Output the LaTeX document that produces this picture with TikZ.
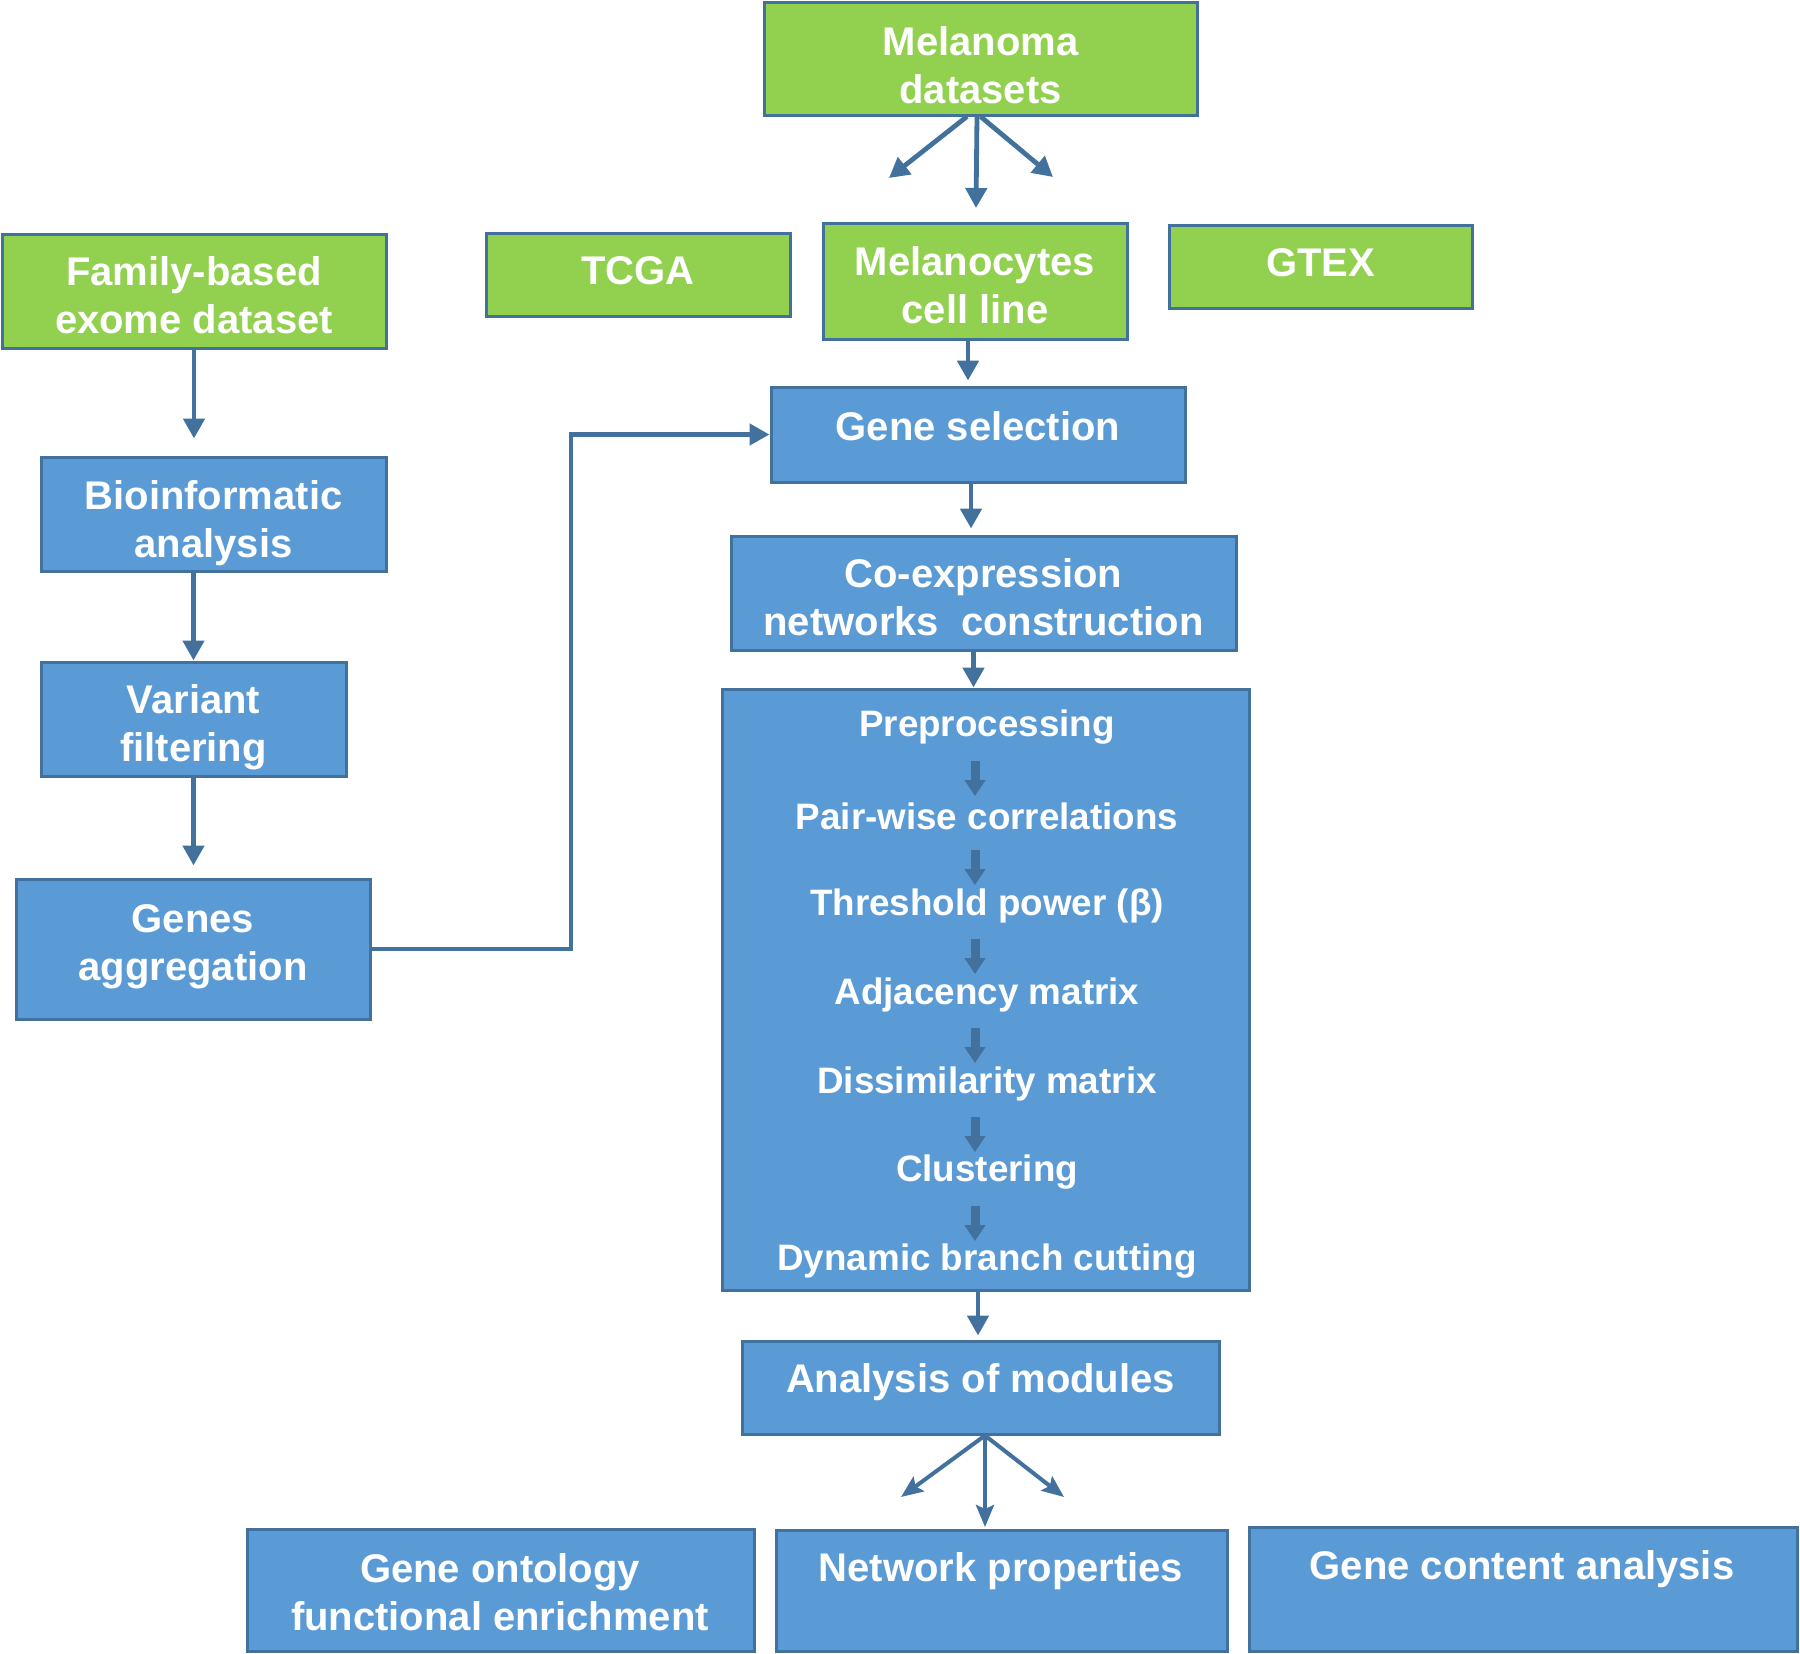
\documentclass[tikz,border=0pt]{standalone}
\usepackage{fontspec}
\setmainfont{Liberation Sans}
\usetikzlibrary{arrows.meta,calc}
\definecolor{gfill}{HTML}{92D050}
\definecolor{bfill}{HTML}{5B9BD5}
\definecolor{bord}{HTML}{41719C}
\begin{document}
\begin{tikzpicture}[x=0.5pt,y=-0.5pt,
 box/.style={draw=bord,line width=1.5pt,inner sep=0pt},
 gbox/.style={box,fill=gfill},
 bbox/.style={box,fill=bfill},
 txt/.style={text=white,align=center,inner sep=0pt,font=\bfseries\fontsize{20pt}{24pt}\selectfont},
 itxt/.style={text=white,inner sep=0pt,font=\bfseries\fontsize{18.4pt}{22pt}\selectfont},
 arr/.style={draw=bord,line width=2.4pt,-{Triangle[length=10pt,width=10.5pt]}},
 fan/.style={draw=bord,line width=2pt,-{Stealth[length=11pt,width=9pt,inset=2pt]}},
 inarr/.style={draw=bord,line width=4.5pt,-{Triangle[length=8pt,width=10pt]}},
]
\useasboundingbox (0,0) rectangle (1800,1654);

% green boxes
\node[gbox,minimum width=216.5pt,minimum height=56.5pt] (mel) at (980.5,58.5) {};
\node[txt] (melt) at (980.5,65) {Melanoma\\datasets};
\node[gbox,minimum width=152pt,minimum height=41.5pt] (tcga) at (638,274.5) {};
\node[txt] (tcgat) at (638,271) {TCGA};
\node[gbox,minimum width=152pt,minimum height=58pt] (mcl) at (975,281) {};
\node[txt] (mclt) at (975,285) {Melanocytes\\cell line};
\node[gbox,minimum width=151.5pt,minimum height=41.5pt] (gtex) at (1320.5,266.5) {};
\node[txt] (gtext) at (1320.5,263) {GTEX};
\node[gbox,minimum width=192pt,minimum height=57pt] (fam) at (194,291) {};
\node[txt] (famt) at (194,295.5) {Family-based\\exome dataset};

% left column
\node[bbox,minimum width=172.5pt,minimum height=57pt] (bio) at (213.5,514) {};
\node[txt] (biot) at (213.5,523) {Bioinformatic\\analysis};
\node[bbox,minimum width=152.5pt,minimum height=57pt] (var) at (193.5,719) {};
\node[txt] (vart) at (193.5,727) {Variant\\filtering};
\node[bbox,minimum width=177pt,minimum height=70pt] (agg) at (193,949) {};
\node[txt] (aggt) at (193,946.5) {Genes\\aggregation};

% middle column
\node[bbox,minimum width=207pt,minimum height=47.5pt] (gsel) at (978,434.5) {};
\node[txt] (gselt) at (978,426) {Gene selection};
\node[bbox,minimum width=252.5pt,minimum height=57pt] (coex) at (983.5,593) {};
\node[txt] (coext) at (983.5,597.5) {Co-expression\\networks\ \ construction};
\node[bbox,minimum width=263.5pt,minimum height=300.5pt] (big) at (985.5,989.5) {};
\node[itxt] (p1) at (987,727.5) {Preprocessing};
\node[itxt] (p2) at (987,816.5) {Pair-wise correlations};
\node[itxt] (p3) at (987,905.5) {Threshold power (β)};
\node[itxt] (p4) at (987,994.5) {Adjacency matrix};
\node[itxt] (p5) at (987,1083.5) {Dissimilarity matrix};
\node[itxt] (p6) at (987,1172.5) {Clustering};
\node[itxt] (p7) at (987,1261.5) {Dynamic branch cutting};
\node[bbox,minimum width=238.5pt,minimum height=46.5pt] (ana) at (980.5,1387.5) {};
\node[txt] (anat) at (980.5,1382.5) {Analysis of modules};

% bottom boxes
\node[bbox,minimum width=253.5pt,minimum height=61pt] (go) at (500.5,1590) {};
\node[txt] (got) at (500,1592) {Gene ontology\\functional enrichment};
\node[bbox,minimum width=225.5pt,minimum height=60.5pt] (np) at (1001.5,1590.5) {};
\node[txt] (npt) at (1001,1571.5) {Network properties};
\node[bbox,minimum width=274pt,minimum height=62pt] (gca) at (1523.5,1589) {};
\node[txt] (gcat) at (1522,1569.5) {Gene content analysis};

% connectors
\coordinate (fl) at (889,178);
\coordinate (fm) at (976,208);
\coordinate (fr) at (1053,177);
\draw[arr] ([xshift=-6.75pt]mel.south) -- (fl);
\draw[arr] ([xshift=-1.75pt]mel.south) -- (fm);
\draw[arr] (mel.south) -- (fr);

\draw[arr,shorten >=8.5pt] (fam.south) -- (fam.south |- bio.north);
\draw[arr] (var.north |- bio.south) -- (var.north);
\draw[arr,shorten >=6pt] (var.south) -- (var.south |- agg.north);
\coordinate (bend) at (571,949);
\draw[arr] (agg.east) -- (bend) |- (gsel.west);

\draw[arr,shorten >=2.5pt] ([xshift=-3.5pt]mcl.south) -- ([xshift=-3.5pt]mcl.south |- gsel.north);
\draw[arr,shorten >=3pt] ([xshift=-3.5pt]gsel.south) -- ([xshift=-3.5pt]gsel.south |- coex.north);
\draw[arr] ([xshift=-5pt]coex.south) -- ([xshift=-5pt]coex.south |- big.north);
\draw[arr,shorten >=2pt] ([xshift=-3.75pt]big.south) -- ([xshift=-3.75pt]big.south |- ana.north);

\foreach \a/\b in {p1/p2,p2/p3,p3/p4,p4/p5,p5/p6,p6/p7}
  \draw[inarr] ([xshift=-6pt,yshift=-16.8pt]\a.center) -- ([xshift=-6pt,yshift=10.2pt]\b.center);

\coordinate (bl) at (901,1497);
\coordinate (bm) at (985,1527);
\coordinate (br) at (1064,1497);
\draw[fan] ([xshift=2.25pt]ana.south) -- (bl);
\draw[fan] ([xshift=2.25pt]ana.south) -- (bm);
\draw[fan] ([xshift=2.25pt]ana.south) -- (br);
\end{tikzpicture}
\end{document}
